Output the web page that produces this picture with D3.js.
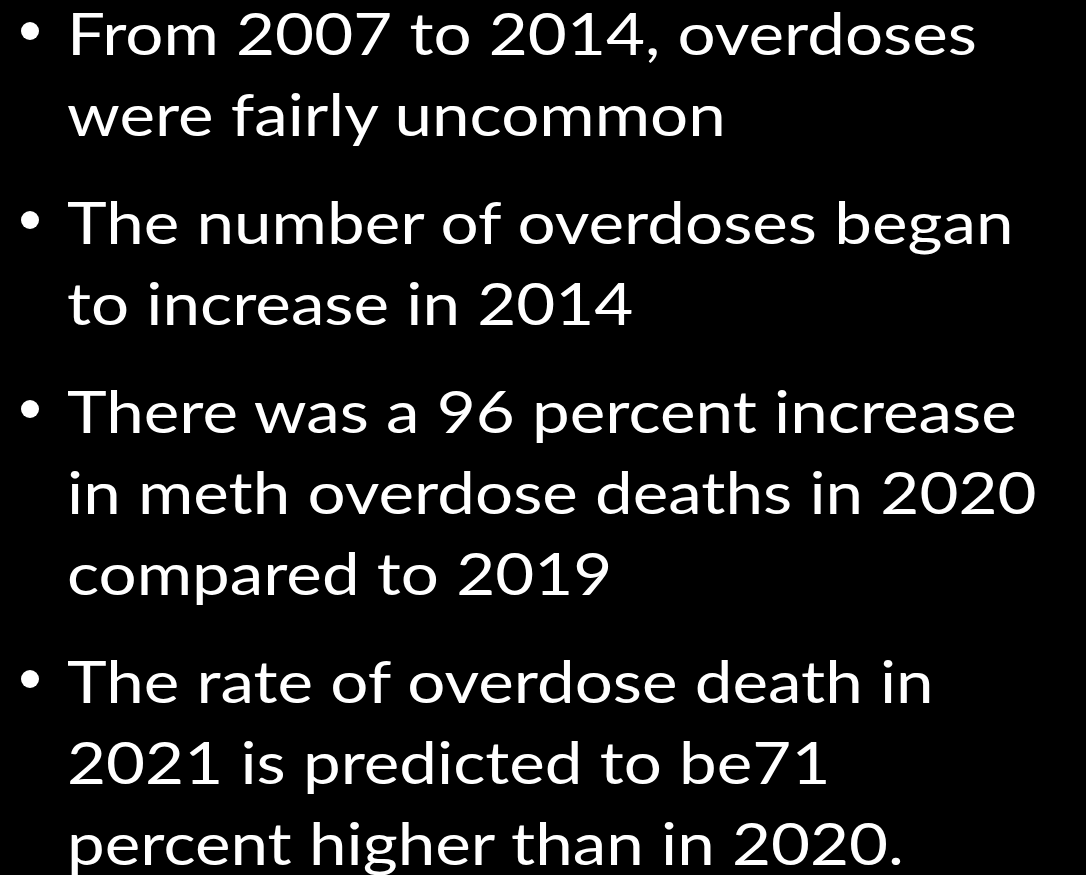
<!DOCTYPE html>
<html>
<head>
    <meta charset="utf-8">
    <style>
        html, body { margin: 0; padding: 0; background: #000; }
    </style>
</head>
<body>
    <script src="https://cdn.jsdelivr.net/npm/d3@7"></script>
    <script>
        // bullet text, one array of wrapped lines per bullet
        var bullet1 = ["From 2007 to 2014, overdoses", "were fairly uncommon"];
        var bullet2 = ["The number of overdoses began", "to increase in 2014"];
        var bullet3 = ["There was a 96 percent increase", "in meth overdose deaths in 2020", "compared to 2019"];
        var bullet4 = ["The rate of overdose death in", "2021 is predicted to be71", "percent higher than in 2020."];
        var bullets = [bullet1, bullet2, bullet3, bullet4];

        var width = 1086, height = 875;
        var lineStep = 81, paraGap = 27;
        var firstBaseline = 55;
        var textLeft = 67, bulletX = 30;
        var fontSize = 58;
        var targetFirstWidth = 910;

        // flatten to rows with line/paragraph index
        var rows = [];
        var lineCount = 0;
        bullets.forEach(function (lines, p) {
            lines.forEach(function (t, i) {
                rows.push({ text: t, line: lineCount, para: p, first: i === 0 });
                lineCount++;
            });
        });

        var yLine = d3.scaleLinear()
            .domain([0, 1])
            .range([firstBaseline, firstBaseline + lineStep]);

        function yPos(d) { return yLine(d.line) + d.para * paraGap; }

        var svg = d3.select("body").append("svg")
            .attr("width", width)
            .attr("height", height)
            .style("display", "block");

        svg.append("rect")
            .attr("width", width)
            .attr("height", height)
            .attr("fill", "#000");

        var texts = svg.append("g")
            .selectAll("text.line")
            .data(rows)
            .enter()
            .append("text")
            .attr("class", "line")
            .attr("y", yPos)
            .attr("fill", "#fff")
            .style("font-family", "Lato, 'Open Sans', sans-serif")
            .style("font-weight", 400)
            .style("font-size", fontSize + "px")
            .text(function (d) { return d.text; });

        // squeeze horizontally so the first line spans like the original
        var measured = texts.node().getComputedTextLength();
        var sx = targetFirstWidth / measured;
        texts.attr("transform", "translate(" + textLeft + ",0) scale(" + sx + ",1)");

        svg.selectAll("circle.bullet")
            .data(rows.filter(function (d) { return d.first; }))
            .enter()
            .append("circle")
            .attr("class", "bullet")
            .attr("cx", bulletX)
            .attr("cy", function (d) { return yPos(d) - 24; })
            .attr("r", 9)
            .attr("fill", "#fff");
    </script>
</body>
</html>
